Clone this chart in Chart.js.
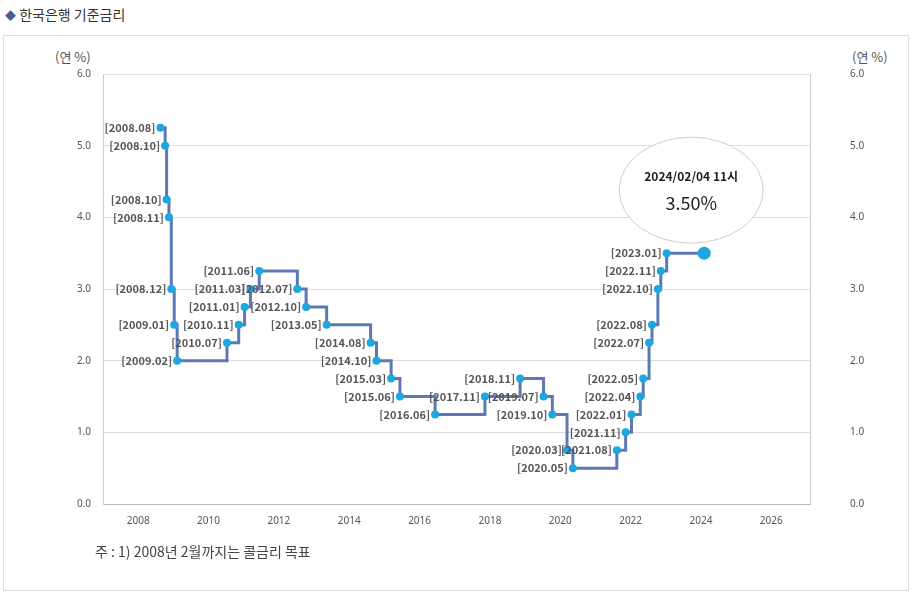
<!DOCTYPE html>
<html><head><meta charset="utf-8">
<script src="https://cdn.jsdelivr.net/npm/chart.js@4.4.1/dist/chart.umd.min.js"></script>
<style>
body{margin:0;background:#fff;font-family:"Noto Sans CJK KR","Noto Sans",sans-serif}
#title{position:absolute;left:5px;top:4px;font-size:14px;color:#333}
#title span{color:#4a5c8c;font-size:11px}
#box{position:absolute;left:3px;top:35px;width:904px;height:554px;border:1px solid #ddd}
#wrap{position:absolute;left:0;top:0;width:918px;height:597px}
#note{position:absolute;left:95px;top:541px;font-size:14px;color:#444}
.unit{position:absolute;top:47px;font-size:13px;color:#555}
</style></head><body>
<div id="title"><span>◆</span> 한국은행 기준금리</div>
<div id="box"></div>
<div class="unit" style="left:55px">(연 %)</div>
<div class="unit" style="left:852px">(연 %)</div>
<div id="wrap"><canvas id="c" width="918" height="597"></canvas></div>
<div id="note">주 : 1) 2008년 2월까지는 콜금리 목표</div>
<script>
const dateLabels = ["2008.08","2008.10","2008.10","2008.11","2008.12","2009.01","2009.02","2010.07","2010.11","2011.01","2011.03","2011.06","2012.07","2012.10","2013.05","2014.08","2014.10","2015.03","2015.06","2016.06","2017.11","2018.11","2019.07","2019.10","2020.03","2020.05","2021.08","2021.11","2022.01","2022.04","2022.05","2022.07","2022.08","2022.10","2022.11","2023.01","2024.02"];
const monthOffsets = [0.6,0.2,0.7,0.5,0.3,0.3,0.3,0.3,0.3,0.3,0.3,0.3,0.3,0.3,0.3,0.3,0.3,0.3,0.3,0.3,0.3,0.3,0.3,0.3,0.3,0.3,0.3,0.3,0.3,0.3,0.3,0.3,0.3,0.3,0.3,0.3,0.1];
const rates = [5.25,5.00,4.25,4.00,3.00,2.50,2.00,2.25,2.50,2.75,3.00,3.25,3.00,2.75,2.50,2.25,2.00,1.75,1.50,1.25,1.50,1.75,1.50,1.25,0.75,0.50,0.75,1.00,1.25,1.50,1.75,2.25,2.50,3.00,3.25,3.50,3.50];
const yTicks = [0,1,2,3,4,5,6];
const latestText = "2024/02/04 11시";
const latestValue = "3.50%";

const pts = dateLabels.map((d,i)=>{
  const [y,m] = d.split(".").map(Number);
  return {x: y + (m-1+monthOffsets[i])/12, y: rates[i]};
});
const last = pts.length-1;

const labelPlugin = {
  id:'labels',
  afterDatasetsDraw(chart){
    const ctx = chart.ctx, meta = chart.getDatasetMeta(0);
    ctx.save();
    ctx.font = "bold 11px 'Noto Sans CJK KR'";
    ctx.fillStyle = "#555";
    ctx.textAlign = "right"; ctx.textBaseline = "middle";
    meta.data.forEach((p,i)=>{
      if(i===last) return;
      ctx.fillText("["+dateLabels[i]+"]", p.x-5, p.y);
    });
    const p = meta.data[last];
    const cx = p.x-13, cy = p.y-63;
    ctx.beginPath();
    ctx.ellipse(cx, cy, 72, 53, 0, 0, Math.PI*2);
    ctx.fillStyle = "#fff"; ctx.fill();
    ctx.strokeStyle = "#ccc"; ctx.lineWidth = 1; ctx.stroke();
    ctx.fillStyle = "#222"; ctx.textAlign = "center";
    ctx.font = "bold 12px 'Noto Sans CJK KR'";
    ctx.fillText(latestText, cx, cy-14);
    ctx.font = "18px 'Noto Sans CJK KR'";
    ctx.fillText(latestValue, cx, cy+13);
    ctx.restore();
  }
};

const tickFont = {size:10, family:"'Noto Sans', sans-serif"};
new Chart(document.getElementById('c'), {
  type:'line',
  data:{datasets:[{
    data: pts,
    stepped: true,
    borderColor:'#5d79b3',
    borderWidth:3,
    pointBackgroundColor:'#1ba7e0',
    pointBorderColor:'#1ba7e0',
    pointRadius: pts.map((p,i)=>i===last?5:4),
    pointBorderWidth: pts.map((p,i)=>i===last?3:0),
  }]},
  options:{
    responsive:false, animation:false,
    layout:{padding:{top:74}},
    plugins:{legend:{display:false},tooltip:{enabled:false}},
    scales:{
      x:{type:'linear',min:2007,max:2027.1,
        afterBuildTicks(s){s.ticks=[2008,2010,2012,2014,2016,2018,2020,2022,2024,2026].map(v=>({value:v}));},
        afterFit(s){s.height=93;},
        grid:{display:false,drawTicks:true,tickLength:5,color:'#bbb'},
        border:{color:'#bbb'},
        ticks:{color:'#555',font:tickFont,padding:6,callback:v=>String(v)}},
      y:{min:0,max:6,position:'left',
        afterBuildTicks(s){s.ticks=yTicks.map(v=>({value:v}));},
        afterFit(s){s.width=103;},
        grid:{color:'#ddd',drawTicks:false},
        border:{color:'#ccc'},
        ticks:{color:'#555',font:tickFont,padding:12,callback:v=>v.toFixed(1)}},
      y2:{min:0,max:6,position:'right',
        afterBuildTicks(s){s.ticks=yTicks.map(v=>({value:v}));},
        afterFit(s){s.width=108;},
        grid:{display:false,drawTicks:false},
        border:{color:'#ccc'},
        ticks:{color:'#555',font:tickFont,padding:40,callback:v=>v.toFixed(1)}}
    }
  },
  plugins:[labelPlugin]
});
</script></body></html>
